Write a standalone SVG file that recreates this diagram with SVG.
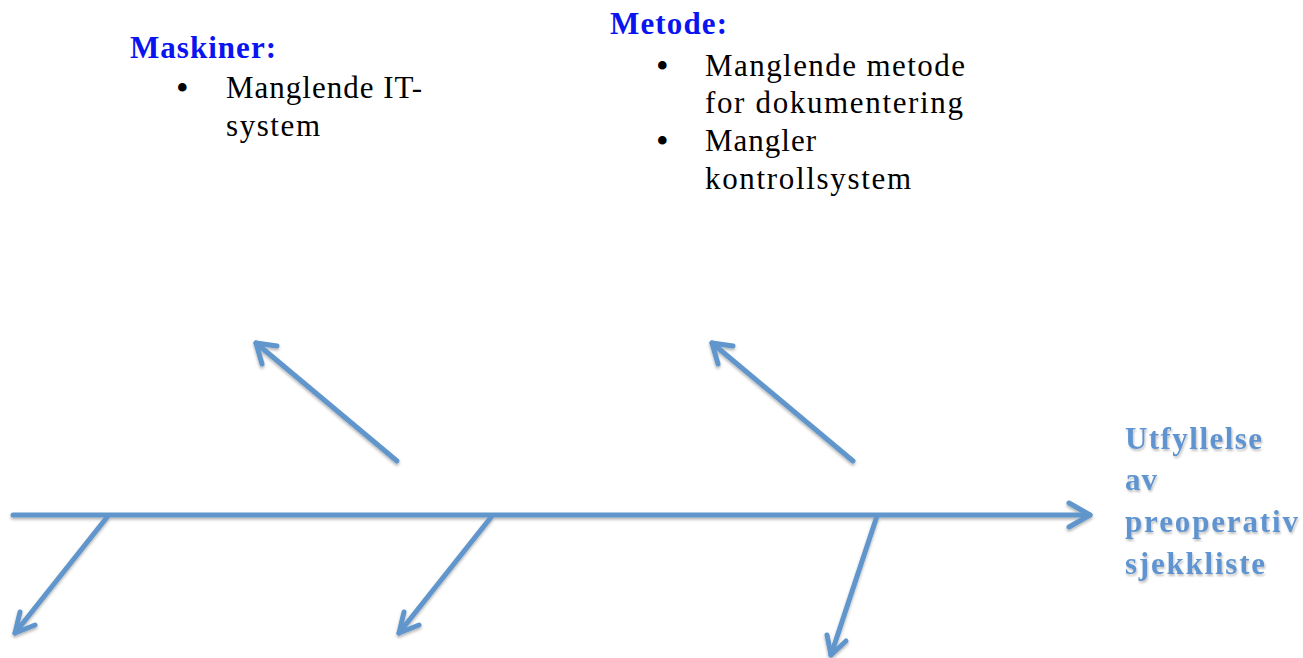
<svg xmlns="http://www.w3.org/2000/svg" width="1303" height="658" viewBox="0 0 1303 658">
<defs>
<style>
.ln{stroke:#6096cb;stroke-width:5;stroke-linecap:round;fill:none}
.hd{stroke:#6096cb;stroke-width:5;stroke-linecap:round;stroke-linejoin:round;fill:none}
.t{font-family:"Liberation Serif",serif;font-size:31px;fill:#000}
.b{font-family:"Liberation Serif",serif;font-size:36px;fill:#000}
.h{font-family:"Liberation Serif",serif;font-size:31px;font-weight:bold;fill:#0a14f0}
.e{font-family:"Liberation Serif",serif;font-size:31px;font-weight:bold;fill:#5f94d0}
</style>
<filter id="sh" x="-10%" y="-10%" width="120%" height="130%">
<feDropShadow dx="0" dy="2" stdDeviation="1.5" flood-color="#000" flood-opacity="0.3"/>
</filter>
<filter id="ts" x="-10%" y="-20%" width="120%" height="150%">
<feDropShadow dx="1" dy="2" stdDeviation="1" flood-color="#000" flood-opacity="0.25"/>
</filter>
</defs>
<g id="connectors" filter="url(#sh)">
<line class="ln" x1="13" y1="515" x2="1090" y2="515"/>
<polyline class="hd" points="1069,503 1090,515 1069,527"/>
<line class="ln" x1="108" y1="516" x2="15" y2="633"/>
<polyline class="hd" points="20,612 15,633 35,625"/>
<line class="ln" x1="492" y1="516" x2="399" y2="633"/>
<polyline class="hd" points="404,612 399,633 419,625"/>
<line class="ln" x1="877" y1="516" x2="831" y2="655"/>
<polyline class="hd" points="827,635 831,655 846,641"/>
<line class="ln" x1="397" y1="461" x2="256" y2="343"/>
<polyline class="hd" points="262,364 256,343 277,346"/>
<line class="ln" x1="853" y1="461" x2="712" y2="343"/>
<polyline class="hd" points="718,364 712,343 733,346"/>
</g>
<g id="maskiner">
<text class="h" x="130" y="58" textLength="146" lengthAdjust="spacing">Maskiner:</text>
<text class="b" x="176" y="100">•</text>
<text class="t" x="226" y="98" textLength="196" lengthAdjust="spacing">Manglende IT-</text>
<text class="t" x="226" y="136" textLength="94" lengthAdjust="spacing">system</text>
</g>
<g id="metode">
<text class="h" x="610" y="34" textLength="117" lengthAdjust="spacing">Metode:</text>
<text class="b" x="656" y="78">•</text>
<text class="t" x="705" y="76" textLength="260" lengthAdjust="spacing">Manglende metode</text>
<text class="t" x="705" y="113" textLength="258" lengthAdjust="spacing">for dokumentering</text>
<text class="b" x="656" y="153">•</text>
<text class="t" x="705" y="151" textLength="111" lengthAdjust="spacing">Mangler</text>
<text class="t" x="705" y="189" textLength="206" lengthAdjust="spacing">kontrollsystem</text>
</g>
<g id="effekt" filter="url(#ts)">
<text class="e" x="1125" y="449" textLength="137" lengthAdjust="spacing">Utfyllelse</text>
<text class="e" x="1125" y="490" textLength="32" lengthAdjust="spacing">av</text>
<text class="e" x="1125" y="532" textLength="173" lengthAdjust="spacing">preoperativ</text>
<text class="e" x="1125" y="574" textLength="140" lengthAdjust="spacing">sjekkliste</text>
</g>
</svg>
